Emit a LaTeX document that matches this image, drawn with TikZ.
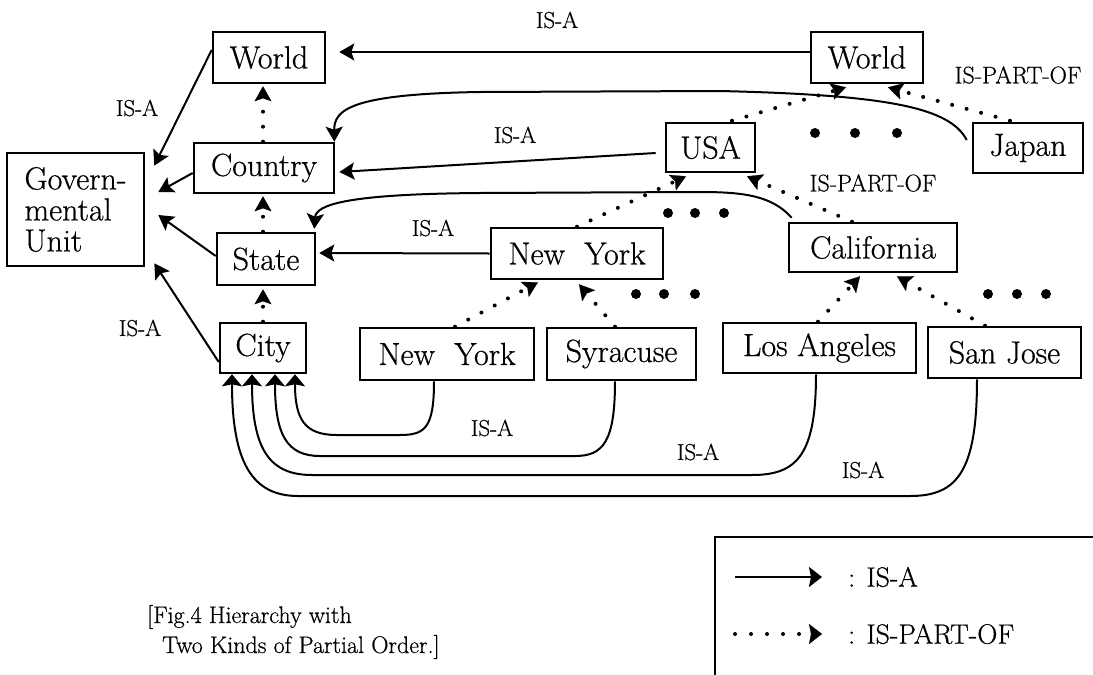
\documentclass[tikz,border=0pt]{standalone}
\usepackage{fontspec}
\setmainfont{Latin Modern Roman}[FakeBold=0.6]
\usetikzlibrary{arrows.meta,calc}
\newcommand{\boxfont}{\fontsize{32}{31}\selectfont}
\newcommand{\labfont}{\fontsize{23}{23}\selectfont}
\newcommand{\partfont}{\fontsize{24}{24}\selectfont}
\newcommand{\legfont}{\fontsize{28}{28}\selectfont}
\newcommand{\capfont}{\fontsize{24}{26}\selectfont}
\tikzset{
  box/.style={draw, line width=2.6pt, inner sep=0pt, font=\boxfont},
  isa/.style={line width=2pt, -{Stealth[length=15pt,width=17pt,inset=3pt]}},
  cityarc/.style={line width=2pt, -{Stealth[length=12pt,width=20pt,inset=2pt]}},
  part/.style={line width=4pt, line cap=round, dash pattern=on 0pt off 15pt,
    -{Stealth[length=15pt,width=17pt,inset=3pt,line width=0.2pt]}},
  lbl/.style={font=\labfont, inner sep=0pt},
  plbl/.style={font=\partfont, inner sep=0pt},
  bigdot/.style={circle, fill, inner sep=0pt, minimum size=10pt},
}
\begin{document}
\begin{tikzpicture}[x=1pt,y=-1pt]
\fill[white] (0,0) rectangle (1093,675);
\useasboundingbox (0,0) rectangle (1093,675);

% boxes
\node[box, minimum width=112pt, minimum height=51pt] (worldL) at (269,57.5) {World};
\node[box, minimum width=140pt, minimum height=50pt] (country) at (264,168) {Country};
\node[box, minimum width=137pt, minimum height=113pt, align=left] (gov) at (75.5,209.5) {Govern-\\mental\\Unit};
\node[box, minimum width=98pt, minimum height=52pt] (state) at (266,259) {State};
\node[box, minimum width=86pt, minimum height=50pt] (city) at (263,348) {City};
\node[box, minimum width=112pt, minimum height=51pt] (worldR) at (867,57.5) {World};
\node[box, minimum width=89pt, minimum height=49pt] (usa) at (710.5,147.5) {USA};
\node[box, minimum width=110pt, minimum height=50pt] (japan) at (1028,148) {Japan};
\node[box, minimum width=172pt, minimum height=51pt] (nys) at (577,253.5) {New\ \ York};
\node[box, minimum width=168pt, minimum height=49pt] (calif) at (873,247.5) {California};
\node[box, minimum width=174pt, minimum height=52pt] (nyc) at (447,354) {New\ \ York};
\node[box, minimum width=149pt, minimum height=52pt] (syr) at (621.5,354) {Syracuse};
\node[box, minimum width=193pt, minimum height=50pt] (la) at (819.5,348) {Los Angeles};
\node[box, minimum width=153pt, minimum height=51pt] (sj) at (1004.5,352.5) {San\ Jose};

% IS-A straight
\draw[isa] ($(worldR.west)+(0,-5.5)$) -- ($(worldL.east)+(13,-5.5)$);
\draw[isa] ($(worldL.west)+(0,-7.5)$) -- ($(gov.north east)+(9,14)$);
\draw[isa] ($(country.west)+(0,5)$) -- ($(gov.east)+(13,-17.5)$);
\draw[isa] ($(state.west)+(0,-3)$) -- ($(gov.east)+(13,5.5)$);
\draw[isa] ($(city.west)+(0,14)$) -- ($(gov.south east)+(9,-4)$);
\draw[isa] ($(usa.west)+(-9,5.5)$) -- ($(country.east)+(4,4)$);
\draw[isa] (nys.west) -- ($(state.east)+(3,-6)$);

% IS-A curves
\draw[isa] ($(japan.west)+(-5,-8)$) .. controls (950,108) and (890,95) .. (720,91)
   -- (480,92) .. controls (350,94) and (334,110) .. ($(country.north east)+(-1,0)$);
\draw[isa] ($(calif.north west)+(4,-4)$) .. controls (772,196) and (745,192) .. (700,192)
   -- (480,193) .. controls (345,194) and (316,205) .. ($(state.north east)+(-2,-3)$);

% IS-A arcs into City
\draw[cityarc] ($(nyc.south)+(-13,0)$) .. controls (434,428) and (425,435) .. (400,435)
   -- (337,435) .. controls (305,435) and (295,420) .. ($(city.south)+(32,0)$);
\draw[cityarc] ($(syr.south)+(-6.5,0)$) .. controls (615,442) and (603,456) .. (575,456)
   -- (320,456) .. controls (287,456) and (275,435) .. ($(city.south)+(12,0)$);
\draw[cityarc] ($(la.south)+(-3.5,0)$) .. controls (816,455) and (797,475) .. (752,475)
   -- (312,475) .. controls (270,475) and (252,450) .. ($(city.south)+(-11,0)$);
\draw[cityarc] ($(sj.south)+(-27.5,0)$) .. controls (977,472) and (957,496) .. (910,496)
   -- (298,496) .. controls (252,496) and (232,462) .. ($(city.south)+(-31,0)$);

% IS-PART-OF
\draw[part] ($(country.north)+(-1,0)$) -- ($(worldL.south)+(-6,2)$);
\draw[part] ($(state.north)+(-3,0)$) -- ($(country.south)+(-1,2)$);
\draw[part] (city.north) -- ($(state.south)+(-3,3)$);
\draw[part] ($(usa.north)+(21.5,-1)$) -- ($(worldR.south)+(-21,3)$);
\draw[part] ($(japan.north)+(-18,-1)$) -- ($(worldR.south)+(21,3)$);
\draw[part] (nys.north) -- ($(usa.south)+(-24.5,3)$);
\draw[part] ($(calif.north)+(-21,0)$) -- ($(usa.south)+(36.5,3)$);
\draw[part] ($(nyc.north)+(8,0)$) -- ($(nys.south)+(-39,2)$);
\draw[part] ($(syr.north)+(-6.5,0)$) -- ($(nys.south)+(2,4)$);
\draw[part] ($(la.north)+(-1.5,0)$) -- ($(calif.south)+(-13,3)$);
\draw[part] ($(sj.north)+(-19.5,0)$) -- ($(calif.south)+(24,3)$);

% ellipsis dots
\node[bigdot] (d1) at (815,133) {};
\node[bigdot] (d2) at (855,133) {};
\node[bigdot] (d3) at (897,133) {};
\node[bigdot] (d4) at (668,213) {};
\node[bigdot] (d5) at (695,213) {};
\node[bigdot] (d6) at (724,213) {};
\node[bigdot] (d7) at (636,294) {};
\node[bigdot] (d8) at (664,294) {};
\node[bigdot] (d9) at (695,294) {};
\node[bigdot] (d10) at (988,294) {};
\node[bigdot] (d11) at (1017,294) {};
\node[bigdot] (d12) at (1046,294) {};

% labels
\node[lbl] (l1) at (557,20) {IS-A};
\node[lbl] (l2) at (137,108) {IS-A};
\node[lbl] (l3) at (140,328) {IS-A};
\node[lbl] (l4) at (515,135) {IS-A};
\node[lbl] (l5) at (433,228) {IS-A};
\node[lbl] (l6) at (492,428) {IS-A};
\node[lbl] (l7) at (698,452) {IS-A};
\node[lbl] (l8) at (863,470) {IS-A};
\node[plbl] (p1) at (1018,75) {IS-PART-OF};
\node[plbl] (p2) at (873,183) {IS-PART-OF};

% legend
\draw[line width=2.6pt] (1093,537) -- (715,537) -- (715,675);
\coordinate (la1) at (735,577);
\coordinate (la2) at (822,577);
\coordinate (lb1) at (735,634);
\coordinate (lb2) at (822,634);
\draw[line width=2pt, -{Stealth[length=13pt,width=20pt,inset=2pt]}] (la1) -- (la2);
\draw[part, -{Stealth[length=13pt,width=20pt,inset=2pt,line width=0.2pt]}, dash pattern=on 0pt off 16pt] (lb1) -- (lb2);
\node[anchor=west, font=\legfont, inner sep=0pt] (t1) at (848,577) {: IS-A};
\node[anchor=west, font=\legfont, inner sep=0pt] (t2) at (848,634) {: IS-PART-OF};

% caption
\node[anchor=west, font=\capfont, inner sep=0pt] (c1) at (147,617) {[Fig.4 Hierarchy with};
\node[anchor=west, font=\capfont, inner sep=0pt] (c2) at (162,647) {Two Kinds of Partial Order.]};
\end{tikzpicture}
\end{document}
